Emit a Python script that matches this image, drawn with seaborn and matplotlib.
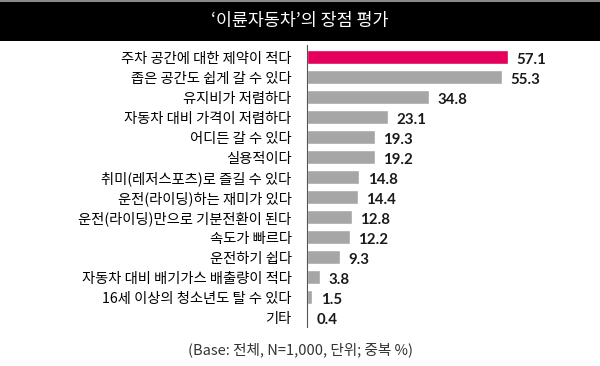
import numpy as np
import pandas as pd
import matplotlib
matplotlib.use('Agg')
import matplotlib.pyplot as plt
import seaborn as sns

# data
items = ['주차 공간에 대한 제약이 적다', '좁은 공간도 쉽게 갈 수 있다', '유지비가 저렴하다',
         '자동차 대비 가격이 저렴하다', '어디든 갈 수 있다', '실용적이다',
         '취미(레저스포츠)로 즐길 수 있다', '운전(라이딩)하는 재미가 있다',
         '운전(라이딩)만으로 기분전환이 된다', '속도가 빠르다', '운전하기 쉽다',
         '자동차 대비 배기가스 배출량이 적다', '16세 이상의 청소년도 탈 수 있다', '기타']
scores = [57.1, 55.3, 34.8, 23.1, 19.3, 19.2, 14.8, 14.4, 12.8, 12.2, 9.3, 3.8, 1.5, 0.4]
title = '‘이륜자동차’의 장점 평가'
note = '(Base: 전체, N=1,000, 단위; 중복 %)'

df = pd.DataFrame({'item': items, 'score': scores})

sns.set_style('white')
plt.rcParams['font.family'] = ['Noto Sans CJK KR', 'DejaVu Sans']

W, H = 600, 366
fig = plt.figure(figsize=(W / 100, H / 100), dpi=100)
fig.patch.set_facecolor('white')

# title bar
fig.patches.append(plt.Rectangle((0, 1 - 41 / H), 1, 40 / H, transform=fig.transFigure,
                                 facecolor='black', edgecolor='none', zorder=0))
fig.lines.append(plt.Line2D([0, 1], [1 - 0.5 / H, 1 - 0.5 / H], transform=fig.transFigure,
                            color='#888888', lw=1.5))
fig.text(0.5, 1 - 21 / H, title, color='white', fontsize=12.5, ha='center', va='center')

# bar area
x0, xmax = 307, 80
ax = fig.add_axes([x0 / W, 39 / H, 3.52 * xmax / W, 282 / H])
colors = ['#e4005b'] + ['#a6a6a6'] * (len(items) - 1)
sns.barplot(data=df, x='score', y='item', hue='item', palette=colors, legend=False,
            orient='h', width=0.7, ax=ax, saturation=1)
ax.set_xlim(0, xmax)
ax.set_ylim(13.5, -0.6)
ax.set_xlabel('')
ax.set_ylabel('')
ax.set_xticks([])
ax.tick_params(axis='y', length=0, pad=11, labelsize=10.3)
for lab in ax.get_yticklabels():
    lab.set_color('#000000')
for s in ['top', 'right', 'bottom']:
    ax.spines[s].set_visible(False)
ax.spines['left'].set_color('#555555')
ax.spines['left'].set_linewidth(0.8)

for i, v in enumerate(scores):
    ax.text(v + 2.4, i + 0.15, f'{v}', fontsize=10.8, fontweight='bold',
            color='#1a1a1a', va='center', ha='left', family=['Lato', 'DejaVu Sans'])

fig.text(0.5, 1 - 350 / H, note, fontsize=10.5, color='#333333', ha='center', va='center')

fig.savefig('out.png', dpi=100)
